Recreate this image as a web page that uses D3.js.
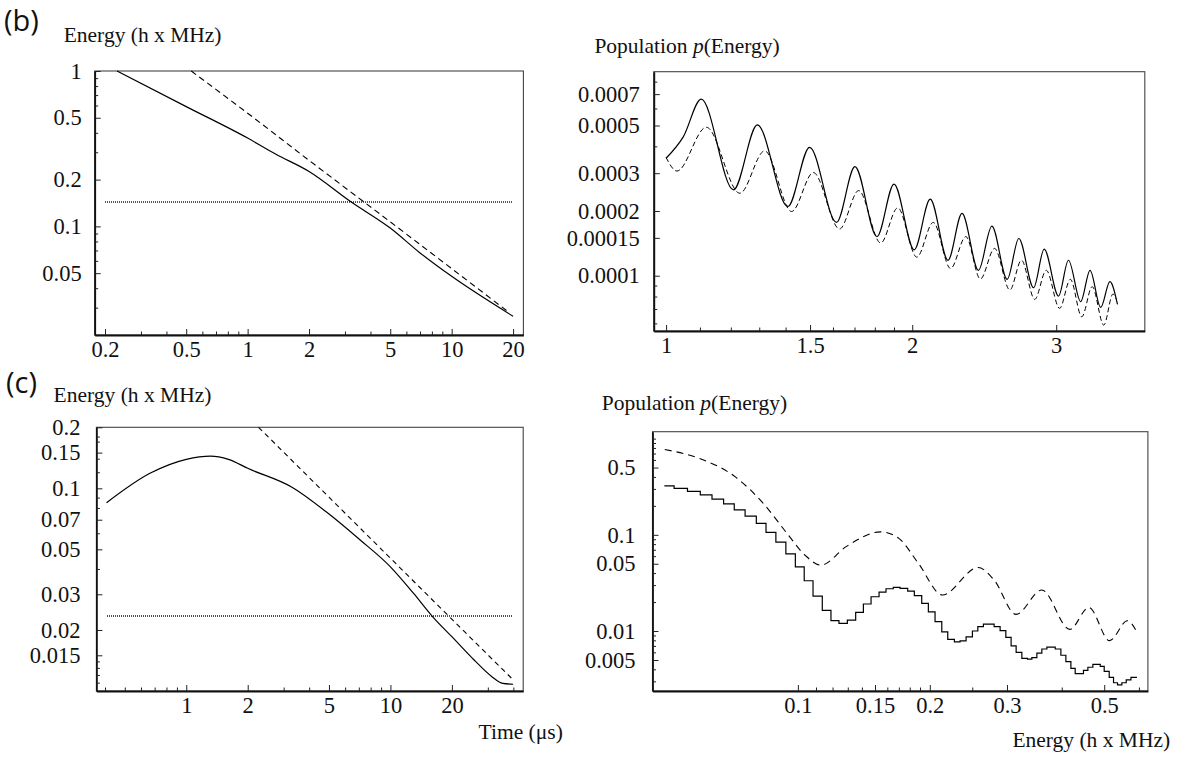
<!DOCTYPE html>
<html><head><meta charset="utf-8">
<script src="https://cdn.jsdelivr.net/npm/d3@7/dist/d3.min.js"></script>
<style>
body{margin:0;background:#fff;}
</style></head><body>
<svg id="c" width="1185" height="758"></svg>
<script>
// ---------- Panel (b) left: energy vs time ----------
const bLeftSolidT = [0.229, 0.5, 1, 1.37, 2, 3.22, 5, 7, 10, 20];
const bLeftSolidE = [1, 0.59, 0.37, 0.292, 0.2256, 0.1435, 0.0976, 0.0675, 0.0477, 0.0264];
const bLeftDashT = [0.529, 1, 2, 5, 10, 19.2];
const bLeftDashE = [1, 0.535, 0.266, 0.107, 0.0535, 0.0278];
const bLeftDotT = [0.2, 20];
const bLeftDotE = [0.1435, 0.1435];
const bLeftXTicks = [0.2, 0.5, 1, 2, 5, 10, 20];
const bLeftXLabels = ["0.2", "0.5", "1", "2", "5", "10", "20"];
const bLeftXMinor = [0.3, 0.4, 0.6, 0.7, 0.8, 0.9, 3, 4, 6, 7, 8, 9];
const bLeftYTicks = [1, 0.5, 0.2, 0.1, 0.05];
const bLeftYLabels = ["1", "0.5", "0.2", "0.1", "0.05"];
const bLeftYMinor = [0.03, 0.04, 0.06, 0.07, 0.08, 0.09, 0.3, 0.4, 0.6, 0.7, 0.8, 0.9];

// ---------- Panel (b) right: population vs energy ----------
const bRightSolidE = [1.0, 1.05, 1.104, 1.209, 1.293, 1.409, 1.498, 1.616, 1.702, 1.811, 1.90, 2.011, 2.104, 2.212, 2.301, 2.41, 2.503, 2.613, 2.70, 2.815, 2.90, 3.02, 3.105, 3.214, 3.30, 3.40, 3.49, 3.565];
const bRightSolidP = [3.52e-4, 4.44e-4, 6.63e-4, 2.51e-4, 5.03e-4, 2.10e-4, 3.96e-4, 1.77e-4, 3.22e-4, 1.52e-4, 2.67e-4, 1.32e-4, 2.27e-4, 1.18e-4, 1.95e-4, 1.06e-4, 1.70e-4, 0.962e-4, 1.49e-4, 0.879e-4, 1.33e-4, 0.804e-4, 1.18e-4, 0.757e-4, 1.06e-4, 0.712e-4, 0.938e-4, 0.735e-4];
const bRightDashE = [1.0, 1.031, 1.12, 1.231, 1.32, 1.424, 1.514, 1.63, 1.72, 1.83, 1.92, 2.026, 2.122, 2.228, 2.326, 2.423, 2.522, 2.633, 2.72, 2.824, 2.917, 3.029, 3.122, 3.224, 3.32, 3.43, 3.52, 3.55];
const bRightDashP = [3.55e-4, 3.07e-4, 4.91e-4, 2.42e-4, 3.81e-4, 1.99e-4, 3.02e-4, 1.65e-4, 2.49e-4, 1.42e-4, 2.07e-4, 1.22e-4, 1.77e-4, 1.08e-4, 1.52e-4, 0.965e-4, 1.34e-4, 0.858e-4, 1.18e-4, 0.776e-4, 1.06e-4, 0.705e-4, 0.962e-4, 0.644e-4, 0.889e-4, 0.589e-4, 0.822e-4, 0.78e-4];
const bRightXTicks = [1, 1.5, 2, 3];
const bRightXLabels = ["1", "1.5", "2", "3"];
const bRightXMinor = [1.1, 1.2, 1.3, 1.4, 1.6, 1.7, 1.8, 1.9];
const bRightYTicks = [0.0007, 0.0005, 0.0003, 0.0002, 0.00015, 0.0001];
const bRightYLabels = ["0.0007", "0.0005", "0.0003", "0.0002", "0.00015", "0.0001"];
const bRightYMinor = [0.00006, 0.00007, 0.00008, 0.00009, 0.0004, 0.0006, 0.0008];

// ---------- Panel (c) left: energy vs time ----------
const cLeftSolidT = [0.407, 0.664, 1.0, 1.314, 1.61, 2.0, 3.31, 4.95, 7.11, 10, 12.99, 16.2, 20, 25.7, 31.4, 35.5, 39.9];
const cLeftSolidE = [0.0849, 0.1186, 0.139, 0.1443, 0.139, 0.1255, 0.101, 0.0753, 0.0556, 0.041, 0.0303, 0.0231, 0.01853, 0.01422, 0.01177, 0.0109, 0.0108];
const cLeftDashT = [2.26, 5, 10, 20, 40];
const cLeftDashE = [0.2, 0.0904, 0.0452, 0.0226, 0.01133];
const cLeftDotT = [0.407, 40];
const cLeftDotE = [0.0234, 0.0234];
const cLeftXTicks = [1, 2, 5, 10, 20];
const cLeftXLabels = ["1", "2", "5", "10", "20"];
const cLeftXMinor = [0.4, 0.5, 0.6, 0.7, 0.8, 0.9, 3, 4, 6, 7, 8, 9, 30, 40];
const cLeftYTicks = [0.2, 0.15, 0.1, 0.07, 0.05, 0.03, 0.02, 0.015];
const cLeftYLabels = ["0.2", "0.15", "0.1", "0.07", "0.05", "0.03", "0.02", "0.015"];
const cLeftYMinor = [0.011, 0.012, 0.013, 0.014, 0.04, 0.06, 0.08, 0.09, 0.12, 0.14, 0.17, 0.18];

// ---------- Panel (c) right: population vs energy ----------
const cRightStepE = [0.0496, 0.0522, 0.0560, 0.0599, 0.0637, 0.0677, 0.0716, 0.0758, 0.0804, 0.0846, 0.0891, 0.0939, 0.0987, 0.1034, 0.1083, 0.1137, 0.1190, 0.1241, 0.1297, 0.1355, 0.1411, 0.1469, 0.1532, 0.1589, 0.1651, 0.1711, 0.1781, 0.1844, 0.1917, 0.1985, 0.2056, 0.2130, 0.2198, 0.2276, 0.2345, 0.2420, 0.2502, 0.2574, 0.2651, 0.2727, 0.2804, 0.2894, 0.2982, 0.3066, 0.3148, 0.3244, 0.3341, 0.3419, 0.3510, 0.3603, 0.3700, 0.3865, 0.3982, 0.4088, 0.4197, 0.4293, 0.4484, 0.4589, 0.4711, 0.4897, 0.5000, 0.5133, 0.5251, 0.5362, 0.5486, 0.5613, 0.5754, 0.5938];
const cRightStepP = [0.3227, 0.3033, 0.2823, 0.2603, 0.2348, 0.2099, 0.1819, 0.1564, 0.1313, 0.1059, 0.0840, 0.0635, 0.0465, 0.0333, 0.0231, 0.0164, 0.0128, 0.0120, 0.0130, 0.0156, 0.0191, 0.0227, 0.0254, 0.0275, 0.0284, 0.0278, 0.0260, 0.0233, 0.0194, 0.0158, 0.0125, 0.0098, 0.0082, 0.0077, 0.0079, 0.0087, 0.0100, 0.0111, 0.0118, 0.0118, 0.0111, 0.0101, 0.0086, 0.0070, 0.0060, 0.0052, 0.0051, 0.0053, 0.0059, 0.0065, 0.0068, 0.0065, 0.0056, 0.0048, 0.0041, 0.0036, 0.0039, 0.0042, 0.0045, 0.0043, 0.0038, 0.0033, 0.0029, 0.00275, 0.0029, 0.0031, 0.0033];
const cRightDashE = [0.0497, 0.0597, 0.0720, 0.0834, 0.0945, 0.1038, 0.1128, 0.1294, 0.1545, 0.170, 0.1884, 0.2137, 0.2578, 0.2804, 0.3146, 0.3603, 0.4173, 0.4613, 0.5142, 0.565, 0.593];
const cRightDashP = [0.771, 0.621, 0.40, 0.212, 0.1034, 0.0615, 0.0484, 0.0763, 0.1074, 0.0918, 0.0505, 0.0237, 0.0458, 0.0339, 0.0149, 0.0267, 0.0104, 0.0176, 0.00794, 0.0128, 0.00984];
const cRightXTicks = [0.1, 0.15, 0.2, 0.3, 0.5];
const cRightXLabels = ["0.1", "0.15", "0.2", "0.3", "0.5"];
const cRightXMinor = [0.11, 0.12, 0.13, 0.14, 0.16, 0.17, 0.18, 0.19, 0.25, 0.4, 0.6];
const cRightYTicks = [0.5, 0.1, 0.05, 0.01, 0.005];
const cRightYLabels = ["0.5", "0.1", "0.05", "0.01", "0.005"];
const cRightYMinor = [0.003, 0.004, 0.006, 0.007, 0.008, 0.009, 0.02, 0.03, 0.04, 0.06, 0.07, 0.08, 0.09, 0.2, 0.3, 0.4, 0.6, 0.7, 0.8, 0.9, 1];

// ---------- drawing ----------
const svg = d3.select("#c");
const zip = (a, b) => a.map((v, i) => [v, b[i]]);
const serif = "'Liberation Serif', 'Times New Roman', serif";
const sans = "'Open Sans', 'DejaVu Sans', sans-serif";
let clipId = 0;

function panel(o) {
  const g = svg.append("g");
  const x = d3.scaleLog().domain(o.xDom).range([o.l, o.r]);
  const y = d3.scaleLog().domain(o.yDom).range([o.b, o.t]);
  const id = "clip" + (clipId++);
  g.append("clipPath").attr("id", id).append("rect")
    .attr("x", o.l).attr("y", o.t - 1).attr("width", o.r - o.l).attr("height", o.b - o.t + 1);

  g.append("rect").attr("x", o.l).attr("y", o.t).attr("width", o.r - o.l).attr("height", o.b - o.t)
    .attr("fill", "none").attr("stroke", "#444").attr("stroke-width", 1.1);

  const styleAxis = sel => {
    sel.select(".domain").attr("stroke", "#111").attr("stroke-width", 1.8);
    sel.selectAll(".tick line").attr("stroke", "#222").attr("stroke-width", 1);
    sel.selectAll(".tick text").style("font-family", serif).style("font-size", "22.5px").attr("fill", "#111");
  };
  const xg = g.append("g").attr("transform", `translate(0,${o.b})`)
    .call(d3.axisBottom(x).tickValues(o.xTicks).tickFormat((d, i) => o.xLabels[i]).tickSize(-6).tickSizeOuter(0).tickPadding(6));
  styleAxis(xg);
  g.append("g").attr("transform", `translate(0,${o.b})`)
    .call(d3.axisBottom(x).tickValues(o.xMinor.filter(v => v > o.xDom[0] && v < o.xDom[1])).tickFormat("").tickSize(-3.5).tickSizeOuter(0))
    .call(s => { s.select(".domain").remove(); s.selectAll("line").attr("stroke", "#222"); });
  const yg = g.append("g").attr("transform", `translate(${o.l},0)`)
    .call(d3.axisLeft(y).tickValues(o.yTicks).tickFormat((d, i) => o.yLabels[i]).tickSize(-6).tickSizeOuter(0).tickPadding(o.yPad));
  styleAxis(yg);
  g.append("g").attr("transform", `translate(${o.l},0)`)
    .call(d3.axisLeft(y).tickValues(o.yMinor.filter(v => v > o.yDom[0] && v < o.yDom[1])).tickFormat("").tickSize(-3.5).tickSizeOuter(0))
    .call(s => { s.select(".domain").remove(); s.selectAll("line").attr("stroke", "#222"); });

  const plot = g.append("g").attr("clip-path", `url(#${id})`);
  o.series.forEach(s => {
    const line = d3.line().x(d => x(d[0])).y(d => y(d[1])).curve(s.curve || d3.curveMonotoneX);
    plot.append("path").datum(s.pts).attr("d", line).attr("fill", "none")
      .attr("stroke", s.color || "#000").attr("stroke-width", s.w || 1.2)
      .attr("stroke-dasharray", s.dash || null)
      .attr("shape-rendering", s.crisp ? "crispEdges" : null);
  });
}

const stepPts = cRightStepP.map((p, i) => [cRightStepE[i], p]);
stepPts.push([cRightStepE[cRightStepE.length - 1], cRightStepP[cRightStepP.length - 1]]);

panel({
  l: 94.7, r: 523.4, t: 71, b: 335, xDom: [0.178, 22.47], yDom: [0.02, 1], yPad: 13,
  xTicks: bLeftXTicks, xLabels: bLeftXLabels, xMinor: bLeftXMinor,
  yTicks: bLeftYTicks, yLabels: bLeftYLabels, yMinor: bLeftYMinor,
  series: [
    { pts: zip(bLeftDotT, bLeftDotE), color: "#555", w: 2, dash: "1,1", curve: d3.curveLinear, crisp: true },
    { pts: zip(bLeftDashT, bLeftDashE), dash: "6,4", w: 1.1 },
    { pts: zip(bLeftSolidT, bLeftSolidE), w: 1.2 }
  ]
});
panel({
  l: 653.8, r: 1144.8, t: 71.7, b: 331, xDom: [0.966, 3.85], yDom: [5.53e-5, 8.9e-4], yPad: 14,
  xTicks: bRightXTicks, xLabels: bRightXLabels, xMinor: bRightXMinor,
  yTicks: bRightYTicks, yLabels: bRightYLabels, yMinor: bRightYMinor,
  series: [
    { pts: zip(bRightDashE, bRightDashP), dash: "5,3", w: 1 },
    { pts: zip(bRightSolidE, bRightSolidP), w: 1.2 }
  ]
});
panel({
  l: 96.4, r: 523.2, t: 427.3, b: 691, xDom: [0.363, 44.7], yDom: [0.01, 0.2], yPad: 16,
  xTicks: cLeftXTicks, xLabels: cLeftXLabels, xMinor: cLeftXMinor,
  yTicks: cLeftYTicks, yLabels: cLeftYLabels, yMinor: cLeftYMinor,
  series: [
    { pts: zip(cLeftDotT, cLeftDotE), color: "#555", w: 2, dash: "1,1", curve: d3.curveLinear, crisp: true },
    { pts: zip(cLeftDashT, cLeftDashE), dash: "5,4", w: 1.1 },
    { pts: zip(cLeftSolidT, cLeftSolidE), w: 1.2 }
  ]
});
panel({
  l: 652.5, r: 1147.9, t: 431.7, b: 691, xDom: [0.0466, 0.629], yDom: [0.00238, 1.18], yPad: 17,
  xTicks: cRightXTicks, xLabels: cRightXLabels, xMinor: cRightXMinor,
  yTicks: cRightYTicks, yLabels: cRightYLabels, yMinor: cRightYMinor,
  series: [
    { pts: zip(cRightDashE, cRightDashP), dash: "7,5", w: 1.1 },
    { pts: stepPts, w: 1.2, curve: d3.curveStepAfter }
  ]
});

// ---------- titles ----------
function txt(xp, yp, s, opts = {}) {
  return svg.append("text").attr("x", xp).attr("y", yp)
    .style("font-family", opts.font || serif).style("font-size", (opts.size || 21.5) + "px")
    .style("font-weight", opts.weight || 400)
    .attr("text-anchor", opts.anchor || "start").attr("fill", "#111").text(s);
}
txt(4, 31, "(b)", { font: sans, size: 29, weight: 400 });
txt(6, 393, "(c)", { font: sans, size: 29, weight: 400 });
txt(63.7, 42, "Energy (h x MHz)");
txt(53.6, 401.7, "Energy (h x MHz)");
function popTitle(xp, yp) {
  const t = svg.append("text").attr("x", xp).attr("y", yp)
    .style("font-family", serif).style("font-size", "21.5px").attr("fill", "#111");
  t.append("tspan").text("Population ");
  t.append("tspan").style("font-style", "italic").text("p");
  t.append("tspan").text("(Energy)");
}
popTitle(594.4, 53);
popTitle(601.8, 410);
txt(478.6, 739, "Time (μs)");
txt(1012.4, 747, "Energy (h x MHz)");
</script></body></html>
